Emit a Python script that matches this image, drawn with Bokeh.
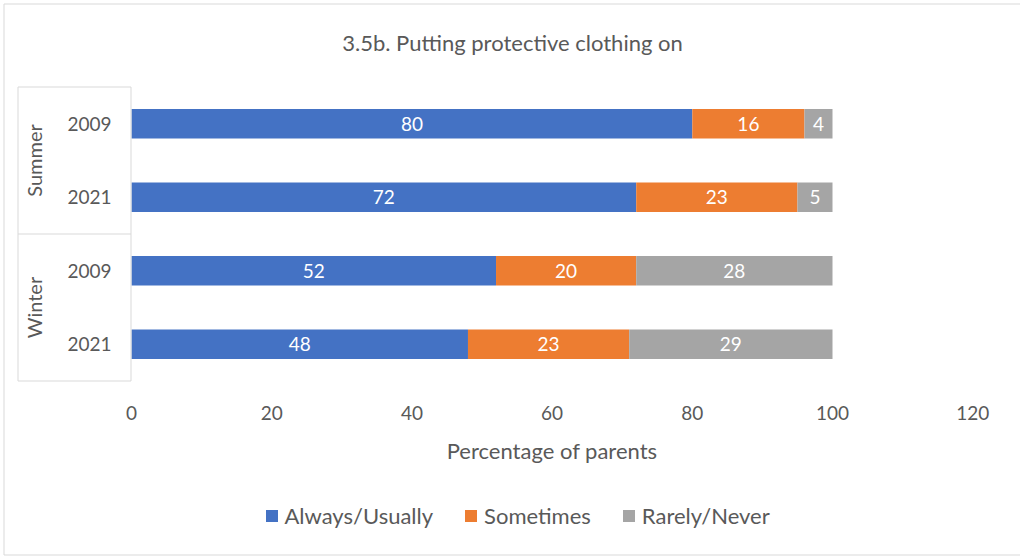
import math

from bokeh.plotting import figure
from bokeh.models import Range1d, Legend, LegendItem
from bokeh.core.properties import value
from bokeh.embed import file_html
from bokeh.resources import INLINE

# --- data -------------------------------------------------------------
groups = ["Summer", "Summer", "Winter", "Winter"]
years = ["2009", "2021", "2009", "2021"]
always_usually = [80, 72, 52, 48]
sometimes = [16, 23, 20, 23]
rarely_never = [4, 5, 28, 29]
series_names = ["Always/Usually", "Sometimes", "Rarely/Never"]
series_colors = ["#4472C4", "#ED7D31", "#A5A5A5"]
x_ticks = [0, 20, 40, 60, 80, 100, 120]
title_text = "3.5b. Putting protective clothing on"
x_label = "Percentage of parents"

# --- styling / geometry (page pixels) ---------------------------------
FONT = "Lato"
TEXT = "#595959"
RULE = "#D9D9D9"
W, H = 1020, 556
ZERO_PX, PX_PER_UNIT = 131, 7.01     # x = 0 position and x scale
BAND_TOP, BAND_BOT = 86.5, 380.5     # category band (rows) on the page

n = len(years)
row_px = (BAND_BOT - BAND_TOP) / n


def px2x(px):
    return (px - ZERO_PX) / PX_PER_UNIT


def py2y(py):
    return (BAND_BOT - py) / row_px


# the plot frame fills the whole canvas; everything is placed in data space
p = figure(
    width=W, height=H,
    output_backend="svg", toolbar_location=None,
    x_range=Range1d(px2x(0), px2x(W)),
    y_range=Range1d(py2y(H), py2y(0)),
    x_axis_location=None, y_axis_location=None,
    min_border=0, min_border_left=0, min_border_right=0,
    min_border_top=0, min_border_bottom=0,
    background_fill_color="white", border_fill_color="white",
)
p.outline_line_color = None
p.xgrid.visible = False
p.ygrid.visible = False

# chart border (left, top, bottom)
p.segment(x0=[px2x(3.5), px2x(3.5), px2x(3.5)],
          x1=[px2x(3.5), px2x(W), px2x(W)],
          y0=[py2y(3.5), py2y(3.5), py2y(554.5)],
          y1=[py2y(554.5), py2y(3.5), py2y(554.5)],
          line_color=RULE, line_width=1)

# row centres, first row on top
ys = [n - i - 0.5 for i in range(n)]

# --- stacked bars -----------------------------------------------------
series = [always_usually, sometimes, rarely_never]
left = [0] * n
renderers = []
for vals, color in zip(series, series_colors):
    right = [l + v for l, v in zip(left, vals)]
    r = p.hbar(y=ys, left=left, right=right, height=0.40,
               fill_color=color, line_color=None)
    renderers.append(r)
    mids = [(l + rr) / 2 for l, rr in zip(left, right)]
    p.text(x=mids, y=ys, text=[str(v) for v in vals],
           text_color="white", text_font=value(FONT), text_font_size="19px",
           text_align="center", text_baseline="middle")
    left = right

# --- category table on the left ---------------------------------------
p.text(x=[px2x(89)] * n, y=ys, text=years,
       text_color=TEXT, text_font=value(FONT), text_font_size="19px",
       text_align="center", text_baseline="middle")

group_names = []
for g in groups:
    if g not in group_names:
        group_names.append(g)
group_centres, bounds = [], [float(n)]
for g in group_names:
    gy = [y for y, gg in zip(ys, groups) if gg == g]
    group_centres.append(sum(gy) / len(gy))
    bounds.append(min(gy) - 0.5)

p.text(x=[px2x(33)] * len(group_names), y=group_centres, text=group_names,
       angle=math.pi / 2,
       text_color=TEXT, text_font=value(FONT), text_font_size="20px",
       text_align="center", text_baseline="middle")

p.segment(x0=[px2x(17.5)] * len(bounds), x1=[px2x(130.5)] * len(bounds),
          y0=bounds, y1=bounds, line_color=RULE, line_width=1)
p.segment(x0=[px2x(17.5), px2x(130.5)], x1=[px2x(17.5), px2x(130.5)],
          y0=[0, 0], y1=[n, n], line_color=RULE, line_width=1)

# --- value axis: tick labels and title --------------------------------
p.text(x=x_ticks, y=[py2y(412)] * len(x_ticks), text=[str(t) for t in x_ticks],
       text_color=TEXT, text_font=value(FONT), text_font_size="19px",
       text_align="center", text_baseline="middle")
p.text(x=[(x_ticks[0] + x_ticks[-1]) / 2], y=[py2y(450)], text=[x_label],
       text_color=TEXT, text_font=value(FONT), text_font_size="22px",
       text_align="center", text_baseline="middle")

# --- chart title --------------------------------------------------------
p.text(x=[px2x(512)], y=[py2y(42)], text=[title_text],
       text_color=TEXT, text_font=value(FONT), text_font_size="22px",
       text_align="center", text_baseline="middle")

# --- legend -----------------------------------------------------------
legend = Legend(
    items=[LegendItem(label=nm, renderers=[r]) for nm, r in zip(series_names, renderers)],
    orientation="horizontal",
    location=(263.5, H - 529),
    border_line_color=None, background_fill_alpha=0,
    padding=0, margin=0, spacing=30, label_standoff=6,
    glyph_width=15, glyph_height=15, label_height=22,
    label_text_font=FONT, label_text_font_size="22px", label_text_color=TEXT,
)
p.add_layout(legend)

open("out.html", "w").write(file_html(p, INLINE))
